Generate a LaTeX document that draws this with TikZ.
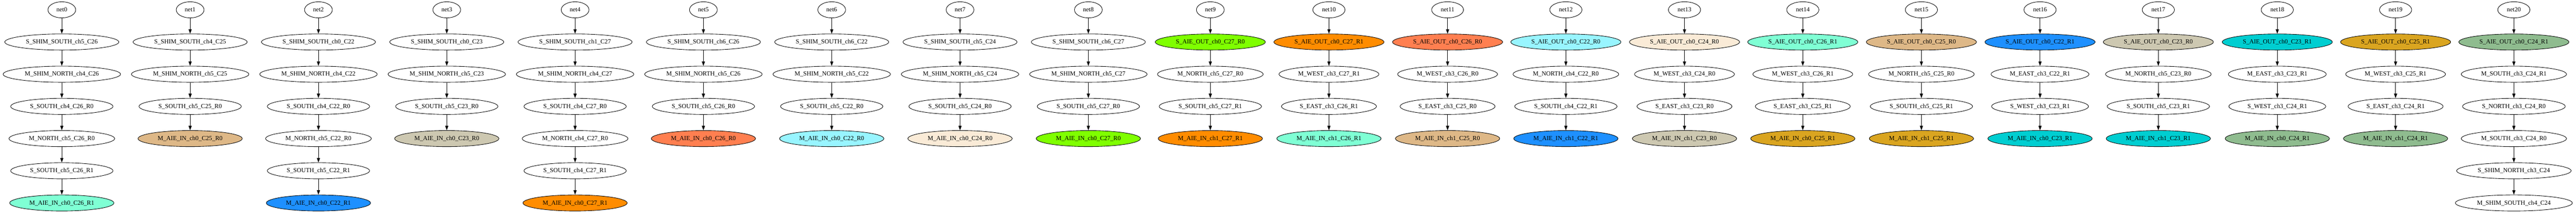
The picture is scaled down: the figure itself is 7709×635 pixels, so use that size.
\documentclass[tikz,border=0pt]{standalone}
\usepackage{fontspec}
\setmainfont{Liberation Serif}
\usepackage{xcolor}
\usetikzlibrary{shapes.geometric, arrows.meta}

\definecolor{aquamarine}{HTML}{7FFFD4}
\definecolor{burlywood}{HTML}{DEB887}
\definecolor{dodgerblue}{HTML}{1E90FF}
\definecolor{cornsilkgray}{HTML}{CDC8B1}
\definecolor{darkorange}{HTML}{FF8C00}
\definecolor{coral}{HTML}{FF7F50}
\definecolor{cadetcyan}{HTML}{98F5FF}
\definecolor{antiquewhite}{HTML}{FAEBD7}
\definecolor{chartreuse}{HTML}{7FFF00}
\definecolor{goldenrod}{HTML}{DAA520}
\definecolor{darkturquoise}{HTML}{00CED1}
\definecolor{darkseagreen}{HTML}{8FBC8F}

\begin{document}
\begin{tikzpicture}[x=0.75pt, y=-0.75pt,
  port/.style={ellipse, draw, line width=1pt, inner xsep=10pt, inner ysep=3pt,
    minimum height=36pt, font=\fontsize{14}{16}\selectfont},
  arr/.style={line width=1pt, -{Triangle[length=10pt, width=7pt]}}]
  \useasboundingbox (0, 0) rectangle (7709, 635);

  % net0
  \node[port] (net0) at (185, 29.3) {net0};
  \node[port] (c0a) at (185, 125.3) {S\_SHIM\_SOUTH\_ch5\_C26};
  \node[port] (c0b) at (185, 221.3) {M\_SHIM\_NORTH\_ch4\_C26};
  \node[port] (c0c) at (185, 317.3) {S\_SOUTH\_ch4\_C26\_R0};
  \node[port] (c0d) at (185, 413.3) {M\_NORTH\_ch5\_C26\_R0};
  \node[port] (c0e) at (185, 509.3) {S\_SOUTH\_ch5\_C26\_R1};
  \node[port, fill=aquamarine] (c0f) at (185, 605.3) {M\_AIE\_IN\_ch0\_C26\_R1};
  \draw[arr] (net0) -- (c0a);
  \draw[arr] (c0a) -- (c0b);
  \draw[arr] (c0b) -- (c0c);
  \draw[arr] (c0c) -- (c0d);
  \draw[arr] (c0d) -- (c0e);
  \draw[arr] (c0e) -- (c0f);

  % net1
  \node[port] (net1) at (569, 29.3) {net1};
  \node[port] (c1a) at (569, 125.3) {S\_SHIM\_SOUTH\_ch4\_C25};
  \node[port] (c1b) at (569, 221.3) {M\_SHIM\_NORTH\_ch5\_C25};
  \node[port] (c1c) at (569, 317.3) {S\_SOUTH\_ch5\_C25\_R0};
  \node[port, fill=burlywood] (c1d) at (569, 413.3) {M\_AIE\_IN\_ch0\_C25\_R0};
  \draw[arr] (net1) -- (c1a);
  \draw[arr] (c1a) -- (c1b);
  \draw[arr] (c1b) -- (c1c);
  \draw[arr] (c1c) -- (c1d);

  % net2
  \node[port] (net2) at (953, 29.3) {net2};
  \node[port] (c2a) at (953, 125.3) {S\_SHIM\_SOUTH\_ch0\_C22};
  \node[port] (c2b) at (953, 221.3) {M\_SHIM\_NORTH\_ch4\_C22};
  \node[port] (c2c) at (953, 317.3) {S\_SOUTH\_ch4\_C22\_R0};
  \node[port] (c2d) at (953, 413.3) {M\_NORTH\_ch5\_C22\_R0};
  \node[port] (c2e) at (953, 509.3) {S\_SOUTH\_ch5\_C22\_R1};
  \node[port, fill=dodgerblue] (c2f) at (953, 605.3) {M\_AIE\_IN\_ch0\_C22\_R1};
  \draw[arr] (net2) -- (c2a);
  \draw[arr] (c2a) -- (c2b);
  \draw[arr] (c2b) -- (c2c);
  \draw[arr] (c2c) -- (c2d);
  \draw[arr] (c2d) -- (c2e);
  \draw[arr] (c2e) -- (c2f);

  % net3
  \node[port] (net3) at (1337, 29.3) {net3};
  \node[port] (c3a) at (1337, 125.3) {S\_SHIM\_SOUTH\_ch0\_C23};
  \node[port] (c3b) at (1337, 221.3) {M\_SHIM\_NORTH\_ch5\_C23};
  \node[port] (c3c) at (1337, 317.3) {S\_SOUTH\_ch5\_C23\_R0};
  \node[port, fill=cornsilkgray] (c3d) at (1337, 413.3) {M\_AIE\_IN\_ch0\_C23\_R0};
  \draw[arr] (net3) -- (c3a);
  \draw[arr] (c3a) -- (c3b);
  \draw[arr] (c3b) -- (c3c);
  \draw[arr] (c3c) -- (c3d);

  % net4
  \node[port] (net4) at (1721, 29.3) {net4};
  \node[port] (c4a) at (1721, 125.3) {S\_SHIM\_SOUTH\_ch1\_C27};
  \node[port] (c4b) at (1721, 221.3) {M\_SHIM\_NORTH\_ch4\_C27};
  \node[port] (c4c) at (1721, 317.3) {S\_SOUTH\_ch4\_C27\_R0};
  \node[port] (c4d) at (1721, 413.3) {M\_NORTH\_ch4\_C27\_R0};
  \node[port] (c4e) at (1721, 509.3) {S\_SOUTH\_ch4\_C27\_R1};
  \node[port, fill=darkorange] (c4f) at (1721, 605.3) {M\_AIE\_IN\_ch0\_C27\_R1};
  \draw[arr] (net4) -- (c4a);
  \draw[arr] (c4a) -- (c4b);
  \draw[arr] (c4b) -- (c4c);
  \draw[arr] (c4c) -- (c4d);
  \draw[arr] (c4d) -- (c4e);
  \draw[arr] (c4e) -- (c4f);

  % net5
  \node[port] (net5) at (2105, 29.3) {net5};
  \node[port] (c5a) at (2105, 125.3) {S\_SHIM\_SOUTH\_ch6\_C26};
  \node[port] (c5b) at (2105, 221.3) {M\_SHIM\_NORTH\_ch5\_C26};
  \node[port] (c5c) at (2105, 317.3) {S\_SOUTH\_ch5\_C26\_R0};
  \node[port, fill=coral] (c5d) at (2105, 413.3) {M\_AIE\_IN\_ch0\_C26\_R0};
  \draw[arr] (net5) -- (c5a);
  \draw[arr] (c5a) -- (c5b);
  \draw[arr] (c5b) -- (c5c);
  \draw[arr] (c5c) -- (c5d);

  % net6
  \node[port] (net6) at (2489, 29.3) {net6};
  \node[port] (c6a) at (2489, 125.3) {S\_SHIM\_SOUTH\_ch6\_C22};
  \node[port] (c6b) at (2489, 221.3) {M\_SHIM\_NORTH\_ch5\_C22};
  \node[port] (c6c) at (2489, 317.3) {S\_SOUTH\_ch5\_C22\_R0};
  \node[port, fill=cadetcyan] (c6d) at (2489, 413.3) {M\_AIE\_IN\_ch0\_C22\_R0};
  \draw[arr] (net6) -- (c6a);
  \draw[arr] (c6a) -- (c6b);
  \draw[arr] (c6b) -- (c6c);
  \draw[arr] (c6c) -- (c6d);

  % net7
  \node[port] (net7) at (2873, 29.3) {net7};
  \node[port] (c7a) at (2873, 125.3) {S\_SHIM\_SOUTH\_ch5\_C24};
  \node[port] (c7b) at (2873, 221.3) {M\_SHIM\_NORTH\_ch5\_C24};
  \node[port] (c7c) at (2873, 317.3) {S\_SOUTH\_ch5\_C24\_R0};
  \node[port, fill=antiquewhite] (c7d) at (2873, 413.3) {M\_AIE\_IN\_ch0\_C24\_R0};
  \draw[arr] (net7) -- (c7a);
  \draw[arr] (c7a) -- (c7b);
  \draw[arr] (c7b) -- (c7c);
  \draw[arr] (c7c) -- (c7d);

  % net8
  \node[port] (net8) at (3257, 29.3) {net8};
  \node[port] (c8a) at (3257, 125.3) {S\_SHIM\_SOUTH\_ch6\_C27};
  \node[port] (c8b) at (3257, 221.3) {M\_SHIM\_NORTH\_ch5\_C27};
  \node[port] (c8c) at (3257, 317.3) {S\_SOUTH\_ch5\_C27\_R0};
  \node[port, fill=chartreuse] (c8d) at (3257, 413.3) {M\_AIE\_IN\_ch0\_C27\_R0};
  \draw[arr] (net8) -- (c8a);
  \draw[arr] (c8a) -- (c8b);
  \draw[arr] (c8b) -- (c8c);
  \draw[arr] (c8c) -- (c8d);

  % net9
  \node[port] (net9) at (3622, 29.3) {net9};
  \node[port, fill=chartreuse] (c9a) at (3622, 125.3) {S\_AIE\_OUT\_ch0\_C27\_R0};
  \node[port] (c9b) at (3622, 221.3) {M\_NORTH\_ch5\_C27\_R0};
  \node[port] (c9c) at (3622, 317.3) {S\_SOUTH\_ch5\_C27\_R1};
  \node[port, fill=darkorange] (c9d) at (3622, 413.3) {M\_AIE\_IN\_ch1\_C27\_R1};
  \draw[arr] (net9) -- (c9a);
  \draw[arr] (c9a) -- (c9b);
  \draw[arr] (c9b) -- (c9c);
  \draw[arr] (c9c) -- (c9d);

  % net10
  \node[port] (net10) at (3977, 29.3) {net10};
  \node[port, fill=darkorange] (c10a) at (3977, 125.3) {S\_AIE\_OUT\_ch0\_C27\_R1};
  \node[port] (c10b) at (3977, 221.3) {M\_WEST\_ch3\_C27\_R1};
  \node[port] (c10c) at (3977, 317.3) {S\_EAST\_ch3\_C26\_R1};
  \node[port, fill=aquamarine] (c10d) at (3977, 413.3) {M\_AIE\_IN\_ch1\_C26\_R1};
  \draw[arr] (net10) -- (c10a);
  \draw[arr] (c10a) -- (c10b);
  \draw[arr] (c10b) -- (c10c);
  \draw[arr] (c10c) -- (c10d);

  % net11
  \node[port] (net11) at (4332, 29.3) {net11};
  \node[port, fill=coral] (c11a) at (4332, 125.3) {S\_AIE\_OUT\_ch0\_C26\_R0};
  \node[port] (c11b) at (4332, 221.3) {M\_WEST\_ch3\_C26\_R0};
  \node[port] (c11c) at (4332, 317.3) {S\_EAST\_ch3\_C25\_R0};
  \node[port, fill=burlywood] (c11d) at (4332, 413.3) {M\_AIE\_IN\_ch1\_C25\_R0};
  \draw[arr] (net11) -- (c11a);
  \draw[arr] (c11a) -- (c11b);
  \draw[arr] (c11b) -- (c11c);
  \draw[arr] (c11c) -- (c11d);

  % net12
  \node[port] (net12) at (4686, 29.3) {net12};
  \node[port, fill=cadetcyan] (c12a) at (4686, 125.3) {S\_AIE\_OUT\_ch0\_C22\_R0};
  \node[port] (c12b) at (4686, 221.3) {M\_NORTH\_ch4\_C22\_R0};
  \node[port] (c12c) at (4686, 317.3) {S\_SOUTH\_ch4\_C22\_R1};
  \node[port, fill=dodgerblue] (c12d) at (4686, 413.3) {M\_AIE\_IN\_ch1\_C22\_R1};
  \draw[arr] (net12) -- (c12a);
  \draw[arr] (c12a) -- (c12b);
  \draw[arr] (c12b) -- (c12c);
  \draw[arr] (c12c) -- (c12d);

  % net13
  \node[port] (net13) at (5041, 29.3) {net13};
  \node[port, fill=antiquewhite] (c13a) at (5041, 125.3) {S\_AIE\_OUT\_ch0\_C24\_R0};
  \node[port] (c13b) at (5041, 221.3) {M\_WEST\_ch3\_C24\_R0};
  \node[port] (c13c) at (5041, 317.3) {S\_EAST\_ch3\_C23\_R0};
  \node[port, fill=cornsilkgray] (c13d) at (5041, 413.3) {M\_AIE\_IN\_ch1\_C23\_R0};
  \draw[arr] (net13) -- (c13a);
  \draw[arr] (c13a) -- (c13b);
  \draw[arr] (c13b) -- (c13c);
  \draw[arr] (c13c) -- (c13d);

  % net14
  \node[port] (net14) at (5395, 29.3) {net14};
  \node[port, fill=aquamarine] (c14a) at (5395, 125.3) {S\_AIE\_OUT\_ch0\_C26\_R1};
  \node[port] (c14b) at (5395, 221.3) {M\_WEST\_ch3\_C26\_R1};
  \node[port] (c14c) at (5395, 317.3) {S\_EAST\_ch3\_C25\_R1};
  \node[port, fill=goldenrod] (c14d) at (5395, 413.3) {M\_AIE\_IN\_ch0\_C25\_R1};
  \draw[arr] (net14) -- (c14a);
  \draw[arr] (c14a) -- (c14b);
  \draw[arr] (c14b) -- (c14c);
  \draw[arr] (c14c) -- (c14d);

  % net15
  \node[port] (net15) at (5750, 29.3) {net15};
  \node[port, fill=burlywood] (c15a) at (5750, 125.3) {S\_AIE\_OUT\_ch0\_C25\_R0};
  \node[port] (c15b) at (5750, 221.3) {M\_NORTH\_ch5\_C25\_R0};
  \node[port] (c15c) at (5750, 317.3) {S\_SOUTH\_ch5\_C25\_R1};
  \node[port, fill=goldenrod] (c15d) at (5750, 413.3) {M\_AIE\_IN\_ch1\_C25\_R1};
  \draw[arr] (net15) -- (c15a);
  \draw[arr] (c15a) -- (c15b);
  \draw[arr] (c15b) -- (c15c);
  \draw[arr] (c15c) -- (c15d);

  % net16
  \node[port] (net16) at (6105, 29.3) {net16};
  \node[port, fill=dodgerblue] (c16a) at (6105, 125.3) {S\_AIE\_OUT\_ch0\_C22\_R1};
  \node[port] (c16b) at (6105, 221.3) {M\_EAST\_ch3\_C22\_R1};
  \node[port] (c16c) at (6105, 317.3) {S\_WEST\_ch3\_C23\_R1};
  \node[port, fill=darkturquoise] (c16d) at (6105, 413.3) {M\_AIE\_IN\_ch0\_C23\_R1};
  \draw[arr] (net16) -- (c16a);
  \draw[arr] (c16a) -- (c16b);
  \draw[arr] (c16b) -- (c16c);
  \draw[arr] (c16c) -- (c16d);

  % net17
  \node[port] (net17) at (6459, 29.3) {net17};
  \node[port, fill=cornsilkgray] (c17a) at (6459, 125.3) {S\_AIE\_OUT\_ch0\_C23\_R0};
  \node[port] (c17b) at (6459, 221.3) {M\_NORTH\_ch5\_C23\_R0};
  \node[port] (c17c) at (6459, 317.3) {S\_SOUTH\_ch5\_C23\_R1};
  \node[port, fill=darkturquoise] (c17d) at (6459, 413.3) {M\_AIE\_IN\_ch1\_C23\_R1};
  \draw[arr] (net17) -- (c17a);
  \draw[arr] (c17a) -- (c17b);
  \draw[arr] (c17b) -- (c17c);
  \draw[arr] (c17c) -- (c17d);

  % net18
  \node[port] (net18) at (6815, 29.3) {net18};
  \node[port, fill=darkturquoise] (c18a) at (6815, 125.3) {S\_AIE\_OUT\_ch0\_C23\_R1};
  \node[port] (c18b) at (6815, 221.3) {M\_EAST\_ch3\_C23\_R1};
  \node[port] (c18c) at (6815, 317.3) {S\_WEST\_ch3\_C24\_R1};
  \node[port, fill=darkseagreen] (c18d) at (6815, 413.3) {M\_AIE\_IN\_ch0\_C24\_R1};
  \draw[arr] (net18) -- (c18a);
  \draw[arr] (c18a) -- (c18b);
  \draw[arr] (c18b) -- (c18c);
  \draw[arr] (c18c) -- (c18d);

  % net19
  \node[port] (net19) at (7169, 29.3) {net19};
  \node[port, fill=goldenrod] (c19a) at (7169, 125.3) {S\_AIE\_OUT\_ch0\_C25\_R1};
  \node[port] (c19b) at (7169, 221.3) {M\_WEST\_ch3\_C25\_R1};
  \node[port] (c19c) at (7169, 317.3) {S\_EAST\_ch3\_C24\_R1};
  \node[port, fill=darkseagreen] (c19d) at (7169, 413.3) {M\_AIE\_IN\_ch1\_C24\_R1};
  \draw[arr] (net19) -- (c19a);
  \draw[arr] (c19a) -- (c19b);
  \draw[arr] (c19b) -- (c19c);
  \draw[arr] (c19c) -- (c19d);

  % net20
  \node[port] (net20) at (7523, 29.3) {net20};
  \node[port, fill=darkseagreen] (c20a) at (7523, 125.3) {S\_AIE\_OUT\_ch0\_C24\_R1};
  \node[port] (c20b) at (7523, 221.3) {M\_SOUTH\_ch3\_C24\_R1};
  \node[port] (c20c) at (7523, 317.3) {S\_NORTH\_ch3\_C24\_R0};
  \node[port] (c20d) at (7523, 413.3) {M\_SOUTH\_ch3\_C24\_R0};
  \node[port] (c20e) at (7523, 509.3) {S\_SHIM\_NORTH\_ch3\_C24};
  \node[port] (c20f) at (7523, 605.3) {M\_SHIM\_SOUTH\_ch4\_C24};
  \draw[arr] (net20) -- (c20a);
  \draw[arr] (c20a) -- (c20b);
  \draw[arr] (c20b) -- (c20c);
  \draw[arr] (c20c) -- (c20d);
  \draw[arr] (c20d) -- (c20e);
  \draw[arr] (c20e) -- (c20f);
\end{tikzpicture}
\end{document}
